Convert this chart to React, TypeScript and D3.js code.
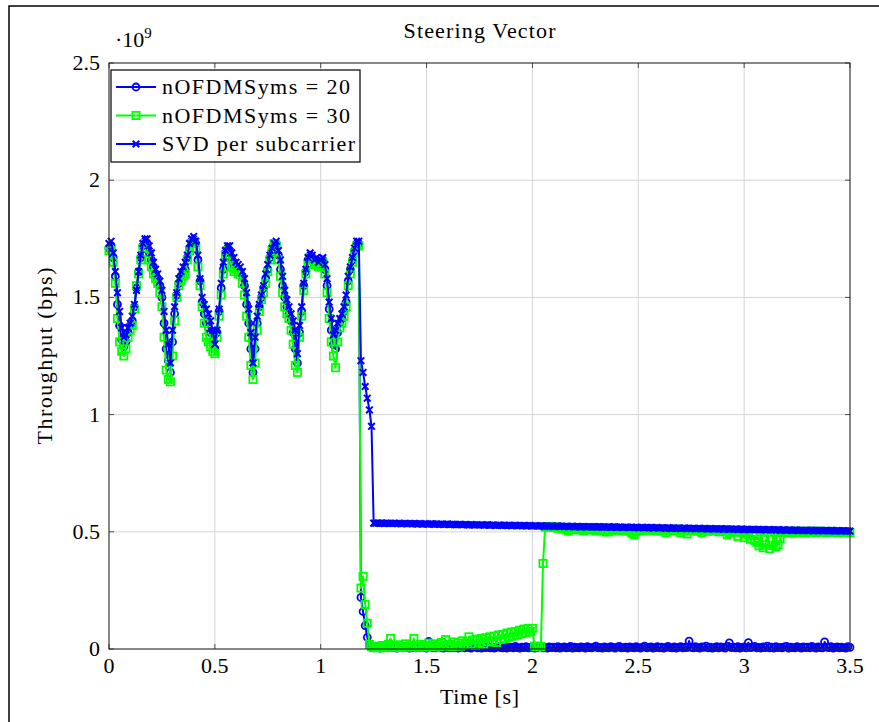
import React from "react";
import * as d3 from "d3";

// ---------- DATA (throughput in units of 1e9 bps) ----------
const sampleStep = 0.01; // seconds between samples, t = index * step, 0 .. 3.5 s

const seriesNames = ["nOFDMSyms = 20", "nOFDMSyms = 30", "SVD per subcarrier"];
const xTicks = [0, 0.5, 1, 1.5, 2, 2.5, 3, 3.5];
const xTickLabels = ["0", "0.5", "1", "1.5", "2", "2.5", "3", "3.5"];
const yTicks = [0, 0.5, 1, 1.5, 2, 2.5];
const yTickLabels = ["0", "0.5", "1", "1.5", "2", "2.5"];

const svdValues = [
  1.73, 1.74, 1.69, 1.61, 1.52, 1.44, 1.37, 1.33, 1.34, 1.37,
  1.39, 1.42, 1.47, 1.53, 1.61, 1.68, 1.73, 1.75, 1.75, 1.72,
  1.69, 1.65, 1.62, 1.60, 1.57, 1.53, 1.44, 1.36, 1.30, 1.22,
  1.36, 1.46, 1.52, 1.58, 1.61, 1.63, 1.65, 1.68, 1.73, 1.75,
  1.76, 1.74, 1.68, 1.58, 1.50, 1.47, 1.45, 1.43, 1.40, 1.36,
  1.30, 1.36, 1.45, 1.56, 1.65, 1.70, 1.72, 1.72, 1.69, 1.67,
  1.65, 1.64, 1.63, 1.61, 1.58, 1.52, 1.45, 1.35, 1.22, 1.33,
  1.42, 1.47, 1.51, 1.55, 1.60, 1.64, 1.68, 1.71, 1.73, 1.74,
  1.70, 1.66, 1.59, 1.53, 1.49, 1.46, 1.43, 1.40, 1.36, 1.26,
  1.38, 1.46, 1.56, 1.62, 1.67, 1.69, 1.68, 1.66, 1.67, 1.65,
  1.66, 1.67, 1.64, 1.58, 1.48, 1.41, 1.34, 1.36, 1.39, 1.41,
  1.43, 1.46, 1.51, 1.59, 1.63, 1.67, 1.71, 1.74, 1.74, 1.23,
  1.18, 1.12, 1.07, 1.02, 0.95,
  0.537, 0.536, 0.538, 0.536, 0.537, 0.535, 0.537, 0.536, 0.536, 0.535,
  0.536, 0.535, 0.536, 0.534, 0.535, 0.536, 0.534, 0.535, 0.534, 0.535,
  0.534, 0.533, 0.535, 0.533, 0.534, 0.533, 0.532, 0.534, 0.533, 0.532,
  0.533, 0.532, 0.533, 0.531, 0.532, 0.533, 0.531, 0.532, 0.531, 0.530,
  0.531, 0.532, 0.530, 0.531, 0.530, 0.529, 0.531, 0.530, 0.529, 0.530,
  0.529, 0.530, 0.528, 0.529, 0.530, 0.528, 0.529, 0.528, 0.527, 0.529,
  0.528, 0.527, 0.528, 0.527, 0.528, 0.526, 0.527, 0.528, 0.526, 0.527,
  0.526, 0.527, 0.525, 0.526, 0.527, 0.525, 0.526, 0.525, 0.524, 0.526,
  0.525, 0.524, 0.525, 0.524, 0.525, 0.523, 0.524, 0.525, 0.523, 0.524,
  0.523, 0.524, 0.522, 0.523, 0.524, 0.522, 0.523, 0.522, 0.521, 0.523,
  0.522, 0.521, 0.522, 0.521, 0.522, 0.520, 0.521, 0.522, 0.520, 0.521,
  0.520, 0.521, 0.519, 0.520, 0.521, 0.519, 0.520, 0.519, 0.518, 0.520,
  0.519, 0.518, 0.519, 0.518, 0.519, 0.517, 0.518, 0.519, 0.517, 0.518,
  0.517, 0.518, 0.516, 0.517, 0.518, 0.516, 0.517, 0.516, 0.515, 0.517,
  0.516, 0.515, 0.516, 0.515, 0.516, 0.514, 0.515, 0.516, 0.514, 0.515,
  0.514, 0.515, 0.513, 0.514, 0.515, 0.513, 0.514, 0.513, 0.512, 0.514,
  0.513, 0.512, 0.513, 0.512, 0.513, 0.511, 0.512, 0.513, 0.511, 0.512,
  0.511, 0.512, 0.510, 0.511, 0.512, 0.510, 0.511, 0.510, 0.509, 0.511,
  0.510, 0.509, 0.510, 0.509, 0.510, 0.508, 0.509, 0.510, 0.508, 0.509,
  0.508, 0.509, 0.507, 0.508, 0.509, 0.507, 0.508, 0.507, 0.506, 0.508,
  0.507, 0.506, 0.507, 0.506, 0.507, 0.505, 0.506, 0.507, 0.505, 0.506,
  0.505, 0.506, 0.504, 0.505, 0.506, 0.504, 0.505, 0.504, 0.503, 0.505,
  0.504, 0.503, 0.504, 0.503, 0.504, 0.503,
];

const sym30Values = [
  1.70, 1.70, 1.65, 1.56, 1.41, 1.31, 1.27, 1.25, 1.28, 1.33,
  1.36, 1.38, 1.45, 1.55, 1.60, 1.66, 1.71, 1.73, 1.71, 1.66,
  1.63, 1.60, 1.58, 1.56, 1.52, 1.46, 1.33, 1.19, 1.15, 1.14,
  1.25, 1.40, 1.50, 1.55, 1.57, 1.59, 1.60, 1.66, 1.70, 1.73,
  1.74, 1.71, 1.63, 1.55, 1.46, 1.39, 1.33, 1.31, 1.29, 1.27,
  1.26, 1.33, 1.42, 1.51, 1.60, 1.68, 1.70, 1.67, 1.63, 1.61,
  1.62, 1.60, 1.60, 1.56, 1.51, 1.42, 1.33, 1.21, 1.15, 1.22,
  1.36, 1.44, 1.49, 1.52, 1.56, 1.61, 1.66, 1.70, 1.73, 1.72,
  1.66, 1.59, 1.52, 1.46, 1.43, 1.41, 1.36, 1.30, 1.21, 1.18,
  1.33, 1.42, 1.53, 1.60, 1.64, 1.67, 1.66, 1.64, 1.65, 1.63,
  1.64, 1.65, 1.60, 1.52, 1.41, 1.31, 1.25, 1.20, 1.31, 1.37,
  1.39, 1.42, 1.46, 1.55, 1.60, 1.65, 1.69, 1.72, 1.72, 0.26,
  0.31, 0.19, 0.11, 0.02,
  0.010,
  0.006, 0.012, 0.008, 0.005, 0.015, 0.009, 0.006, 0.020, 0.045, 0.010,
  0.007, 0.012, 0.018, 0.006, 0.010, 0.022, 0.008, 0.014, 0.009, 0.045,
  0.012, 0.007, 0.020, 0.010, 0.015, 0.008, 0.025, 0.012, 0.018, 0.009,
  0.022, 0.010, 0.028, 0.012, 0.040, 0.015, 0.020, 0.010, 0.030, 0.014,
  0.025, 0.012, 0.035, 0.018, 0.030, 0.052, 0.020, 0.038, 0.015, 0.042,
  0.025, 0.045, 0.020, 0.048, 0.030, 0.052, 0.035, 0.055, 0.028, 0.060,
  0.040, 0.062, 0.045, 0.068, 0.050, 0.072, 0.055, 0.075, 0.060, 0.080,
  0.065, 0.085, 0.070, 0.088, 0.075, 0.088, 0.012, 0.010, 0.012, 0.010,
  0.365, 0.520,
  0.522, 0.520, 0.523, 0.518, 0.521, 0.515, 0.519, 0.512, 0.516, 0.508,
  0.503, 0.512, 0.515, 0.510, 0.514, 0.508, 0.512, 0.505, 0.511, 0.509,
  0.513, 0.507, 0.510, 0.504, 0.509, 0.512, 0.506, 0.510, 0.499, 0.502,
  0.509, 0.512, 0.505, 0.508, 0.511, 0.506, 0.509, 0.503, 0.507, 0.510,
  0.494, 0.487, 0.500, 0.508, 0.510, 0.505, 0.511, 0.507, 0.509, 0.512,
  0.506, 0.509, 0.504, 0.508, 0.511, 0.506, 0.496, 0.509, 0.507, 0.510,
  0.505, 0.508, 0.512, 0.497, 0.506, 0.509, 0.491, 0.504, 0.508, 0.506,
  0.509, 0.503, 0.507, 0.496, 0.505, 0.508, 0.502, 0.506, 0.509, 0.504,
  0.507, 0.500, 0.505, 0.508, 0.503, 0.488, 0.497, 0.506, 0.502, 0.505,
  0.480, 0.498, 0.503, 0.475, 0.490, 0.501, 0.468, 0.485, 0.462, 0.455,
  0.440, 0.500, 0.432, 0.445, 0.498, 0.428, 0.442, 0.501, 0.436, 0.445,
  0.470, 0.495, 0.500, 0.497, 0.502, 0.498, 0.494, 0.500, 0.503, 0.497,
  0.499, 0.502, 0.496, 0.500, 0.503, 0.498, 0.501, 0.497, 0.500, 0.503,
  0.498, 0.501, 0.496, 0.500, 0.502, 0.497, 0.499, 0.495, 0.500, 0.498,
  0.496, 0.499, 0.497, 0.495,
];

const sym20Values = [
  1.71, 1.72, 1.67, 1.59, 1.47, 1.38, 1.32, 1.29, 1.31, 1.35,
  1.38, 1.40, 1.46, 1.54, 1.61, 1.67, 1.72, 1.74, 1.73, 1.69,
  1.66, 1.63, 1.60, 1.58, 1.55, 1.50, 1.39, 1.28, 1.23, 1.18,
  1.31, 1.43, 1.51, 1.56, 1.59, 1.61, 1.62, 1.67, 1.71, 1.74,
  1.75, 1.73, 1.66, 1.57, 1.48, 1.43, 1.39, 1.37, 1.35, 1.32,
  1.28, 1.35, 1.44, 1.54, 1.62, 1.69, 1.71, 1.70, 1.66, 1.64,
  1.63, 1.62, 1.61, 1.59, 1.55, 1.47, 1.39, 1.28, 1.18, 1.28,
  1.39, 1.46, 1.50, 1.54, 1.58, 1.62, 1.67, 1.70, 1.73, 1.73,
  1.68, 1.62, 1.55, 1.50, 1.46, 1.43, 1.40, 1.35, 1.28, 1.22,
  1.35, 1.44, 1.55, 1.61, 1.66, 1.68, 1.67, 1.65, 1.66, 1.64,
  1.65, 1.66, 1.62, 1.55, 1.45, 1.36, 1.30, 1.28, 1.35, 1.39,
  1.41, 1.44, 1.48, 1.57, 1.62, 1.66, 1.70, 1.73, 1.73, 0.22,
  0.16, 0.10, 0.05, 0.015,
  0.008, 0.005, 0.010, 0.006, 0.004, 0.009, 0.007, 0.012, 0.005, 0.008,
  0.006, 0.010, 0.004, 0.008, 0.011, 0.005, 0.007, 0.009, 0.004, 0.006,
  0.010, 0.005, 0.008, 0.006, 0.012, 0.007, 0.004, 0.032, 0.009, 0.006,
  0.005, 0.008, 0.011, 0.006, 0.004, 0.009, 0.007, 0.005, 0.010, 0.006,
  0.008, 0.004, 0.007, 0.011, 0.005, 0.009, 0.006, 0.004, 0.008, 0.010,
  0.005, 0.007, 0.004, 0.009, 0.006, 0.011, 0.005, 0.008, 0.004, 0.007,
  0.010, 0.006, 0.005, 0.008, 0.004, 0.009, 0.007, 0.005, 0.011, 0.006,
  0.004, 0.008, 0.006, 0.010, 0.005, 0.007, 0.009, 0.004, 0.006, 0.008,
  0.011, 0.005, 0.007, 0.004, 0.009, 0.006, 0.008, 0.005, 0.010, 0.004,
  0.007, 0.009, 0.005, 0.006, 0.011, 0.004, 0.008, 0.006, 0.005, 0.009,
  0.007, 0.004, 0.010, 0.006, 0.005, 0.008, 0.012, 0.005, 0.007, 0.004,
  0.009, 0.006, 0.005, 0.010, 0.007, 0.004, 0.008, 0.011, 0.005, 0.006,
  0.008, 0.004, 0.009, 0.007, 0.005, 0.010, 0.006, 0.004, 0.008, 0.012,
  0.005, 0.007, 0.009, 0.004, 0.006, 0.010, 0.005, 0.008, 0.004, 0.007,
  0.011, 0.006, 0.005, 0.009, 0.004, 0.007, 0.010, 0.005, 0.008, 0.006,
  0.034, 0.007, 0.005, 0.010, 0.006, 0.004, 0.009, 0.007, 0.012, 0.005,
  0.008, 0.004, 0.006, 0.010, 0.005, 0.009, 0.007, 0.004, 0.011, 0.026,
  0.006, 0.008, 0.005, 0.010, 0.004, 0.007, 0.009, 0.005, 0.027, 0.006,
  0.008, 0.011, 0.005, 0.007, 0.004, 0.009, 0.006, 0.012, 0.005, 0.008,
  0.004, 0.010, 0.006, 0.007, 0.005, 0.009, 0.011, 0.004, 0.008, 0.006,
  0.005, 0.010, 0.007, 0.004, 0.009, 0.006, 0.008, 0.005, 0.011, 0.007,
  0.004, 0.009, 0.006, 0.005, 0.030, 0.008, 0.006, 0.010, 0.004, 0.007,
  0.009, 0.005, 0.008, 0.006, 0.004, 0.010, 0.007,
];

// ---------- LAYOUT ----------
const W = 879;
const H = 722;
const M = { left: 109, right: 850, top: 63, bottom: 649 };
const FONT = "'Liberation Serif', 'Times New Roman', serif";
const BLUE = "#0000ff";
const GREEN = "#00ff00";

type Marker = "circle" | "square" | "cross";

function MarkerShape({ kind, x, y, color }: { kind: Marker; x: number; y: number; color: string }) {
  if (kind === "circle")
    return <circle cx={x} cy={y} r={3.5} fill="none" stroke={color} strokeWidth={1.8} />;
  if (kind === "square")
    return <rect x={x - 3.6} y={y - 3.6} width={7.2} height={7.2} fill="none" stroke={color} strokeWidth={1.8} />;
  return (
    <path
      d={`M${x - 3.3},${y - 3.3}L${x + 3.3},${y + 3.3}M${x - 3.3},${y + 3.3}L${x + 3.3},${y - 3.3}`}
      stroke={color}
      strokeWidth={2}
      fill="none"
    />
  );
}

export default function App() {
  const x = d3.scaleLinear().domain([0, 3.5]).range([M.left, M.right]);
  const y = d3.scaleLinear().domain([0, 2.5]).range([M.bottom, M.top]);

  const series = [
    { name: seriesNames[0], values: sym20Values, color: BLUE, marker: "circle" as Marker, textLen: 188 },
    { name: seriesNames[1], values: sym30Values, color: GREEN, marker: "square" as Marker, textLen: 188 },
    { name: seriesNames[2], values: svdValues, color: BLUE, marker: "cross" as Marker, textLen: 193 },
  ];

  const line = d3
    .line<number>()
    .x((_, i) => x(i * sampleStep))
    .y((v) => y(v));

  const gridColor = "#d4d4d4";
  const axisColor = "#262626";
  const tickLen = 5;

  const legendX = 111;
  const legendY = 70;
  const legendW = 249;
  const legendH = 92;
  const rowYs = [87, 115.5, 144];

  return (
    <svg
      width={W}
      height={H}
      style={{ position: "absolute", left: 0, top: 0, background: "#fff" }}
      fontFamily={FONT}
    >
      <rect x={0} y={0} width={W} height={H} fill="#fff" />
      {/* outer frame */}
      <rect x={9} y={6} width={W} height={H} fill="none" stroke="#000" strokeWidth={1.5} />

      {/* grid */}
      {xTicks.slice(1, -1).map((t) => (
        <line key={"gx" + t} x1={x(t)} x2={x(t)} y1={M.top} y2={M.bottom} stroke={gridColor} strokeWidth={1} />
      ))}
      {yTicks.slice(1, -1).map((t) => (
        <line key={"gy" + t} x1={M.left} x2={M.right} y1={y(t)} y2={y(t)} stroke={gridColor} strokeWidth={1} />
      ))}

      {/* tick marks (inside) */}
      {xTicks.map((t) => (
        <g key={"tx" + t}>
          <line x1={x(t)} x2={x(t)} y1={M.bottom} y2={M.bottom - tickLen} stroke={axisColor} strokeWidth={0.8} />
          <line x1={x(t)} x2={x(t)} y1={M.top} y2={M.top + tickLen} stroke={axisColor} strokeWidth={0.8} />
        </g>
      ))}
      {yTicks.map((t) => (
        <g key={"ty" + t}>
          <line x1={M.left} x2={M.left + tickLen} y1={y(t)} y2={y(t)} stroke={axisColor} strokeWidth={0.8} />
          <line x1={M.right} x2={M.right - tickLen} y1={y(t)} y2={y(t)} stroke={axisColor} strokeWidth={0.8} />
        </g>
      ))}

      {/* series */}
      {series.map((s) => (
        <g key={s.name}>
          <path d={line(s.values) || ""} fill="none" stroke={s.color} strokeWidth={2} strokeLinejoin="round" />
          {s.values.map((v, i) => (
            <MarkerShape key={i} kind={s.marker} x={x(i * sampleStep)} y={y(v)} color={s.color} />
          ))}
        </g>
      ))}

      {/* axes box */}
      <rect
        x={M.left}
        y={M.top}
        width={M.right - M.left}
        height={M.bottom - M.top}
        fill="none"
        stroke={axisColor}
        strokeWidth={1.1}
      />

      {/* tick labels */}
      {xTicks.map((t, i) => (
        <text key={"lx" + t} x={x(t)} y={M.bottom + 24} fontSize={22} textAnchor="middle" fill="#000">
          {xTickLabels[i]}
        </text>
      ))}
      {yTicks.map((t, i) => (
        <text key={"ly" + t} x={M.left - 9} y={y(t) + 7} fontSize={22} textAnchor="end" fill="#000">
          {yTickLabels[i]}
        </text>
      ))}

      {/* exponent */}
      <text x={115} y={47} fontSize={22} fill="#000">
        ·10
        <tspan fontSize={15} dy={-9}>
          9
        </tspan>
      </text>

      {/* title and axis labels */}
      <text
        x={(M.left + M.right) / 2}
        y={38}
        fontSize={22}
        textAnchor="middle"
        fill="#000"
        textLength={152}
        lengthAdjust="spacing"
      >
        Steering Vector
      </text>
      <text
        x={(M.left + M.right) / 2}
        y={704}
        fontSize={22}
        textAnchor="middle"
        fill="#000"
        textLength={79}
        lengthAdjust="spacing"
      >
        Time [s]
      </text>
      <text
        transform={`translate(52, ${(M.top + M.bottom) / 2}) rotate(-90)`}
        fontSize={22}
        textAnchor="middle"
        fill="#000"
        textLength={177}
        lengthAdjust="spacing"
      >
        Throughput (bps)
      </text>

      {/* legend */}
      <rect x={legendX} y={legendY} width={legendW} height={legendH} fill="#fff" stroke="#000" strokeWidth={1.2} />
      {series.map((s, i) => (
        <g key={"lg" + s.name}>
          <line x1={116} x2={156} y1={rowYs[i]} y2={rowYs[i]} stroke={s.color} strokeWidth={2} />
          <MarkerShape kind={s.marker} x={136} y={rowYs[i]} color={s.color} />
          <text x={162} y={rowYs[i] + 7} fontSize={22} fill="#000" textLength={s.textLen} lengthAdjust="spacing">
            {s.name}
          </text>
        </g>
      ))}
    </svg>
  );
}
